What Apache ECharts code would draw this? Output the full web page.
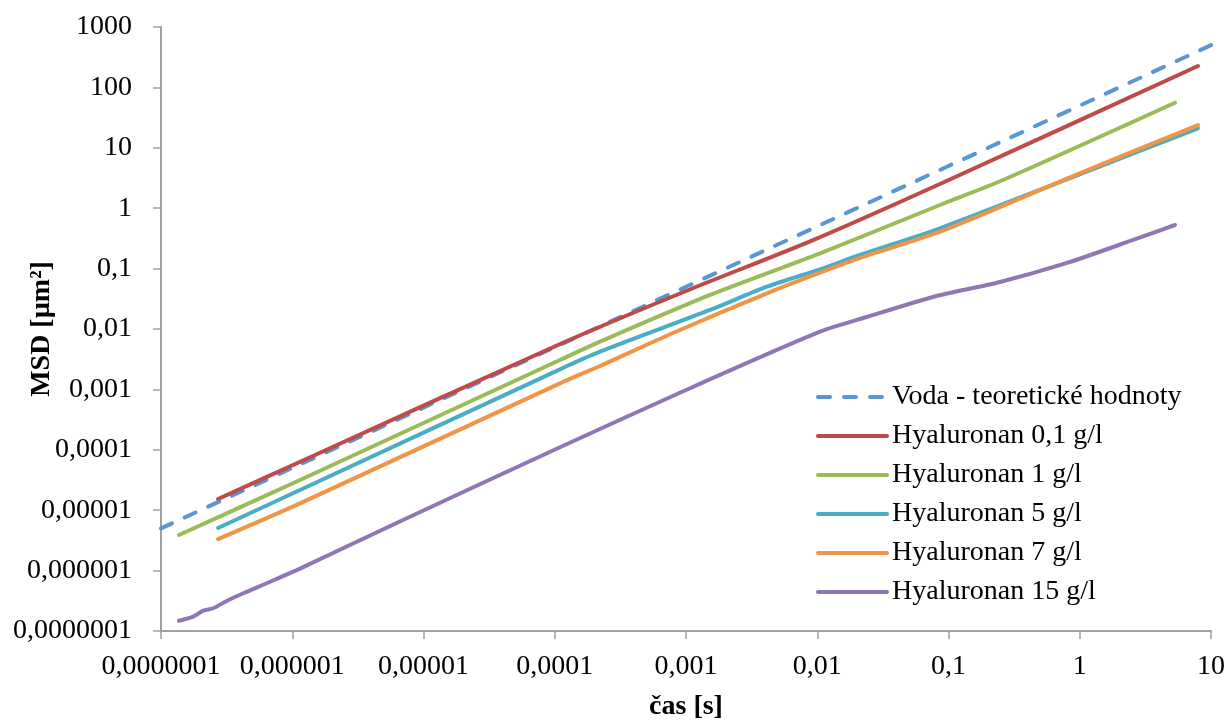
<!DOCTYPE html>
<html>
<head>
<meta charset="utf-8">
<script src="https://cdn.jsdelivr.net/npm/echarts@6/dist/echarts.min.js"></script>
<style>
html,body{margin:0;padding:0;background:#fff;}
#c{width:1230px;height:720px;}
</style>
</head>
<body>
<div id="c"></div>
<script>
// ---- data ----
var seriesNames = ['Voda - teoretické hodnoty', 'Hyaluronan 0,1 g/l', 'Hyaluronan 1 g/l', 'Hyaluronan 5 g/l', 'Hyaluronan 7 g/l', 'Hyaluronan 15 g/l'];
var xTickLabels = ['0,0000001', '0,000001', '0,00001', '0,0001', '0,001', '0,01', '0,1', '1', '10'];
var yTickLabels = ['0,0000001', '0,000001', '0,00001', '0,0001', '0,001', '0,01', '0,1', '1', '10', '100', '1000'];

var tWater = [1e-7, 1e-6, 1e-5, 1e-4, 1e-3, 1e-2, 1e-1, 1, 10];
var mWater = [5e-6, 5e-5, 5e-4, 5e-3, 0.05, 0.5, 5, 50, 500];

var tH01 = [2.72e-7, 1.15e-6, 1.1e-4, 1e-3, 9.3e-3, 0.086, 7.96];
var mH01 = [1.53e-5, 6.35e-5, 5.65e-3, 0.0426, 0.297, 2.52, 226];

var tH1 = [1.37e-7, 1.146e-6, 1.096e-4, 2.213e-4, 1.524e-3, 0.0105, 0.0861, 0.26, 5.32];
var mH1 = [3.88e-6, 3.16e-5, 3.07e-3, 6.17e-3, 0.0366, 0.179, 1.13, 2.93, 55.8];

var tH5 = [2.72e-7, 1.146e-6, 1.096e-4, 2.213e-4, 1.524e-3, 4.14e-3, 0.0105, 0.0212, 0.0861, 0.843, 7.96];
var mH5 = [5.07e-6, 2.16e-5, 2.15e-3, 4.21e-3, 0.0207, 0.0501, 0.0973, 0.168, 0.465, 3.15, 21.0];

var tH7 = [2.72e-7, 1.146e-6, 1.096e-4, 2.213e-4, 7.96e-4, 4.14e-3, 0.0105, 0.0212, 0.0861, 0.843, 7.96];
var mH7 = [3.33e-6, 1.30e-5, 1.26e-3, 2.44e-3, 8.59e-3, 0.0390, 0.0855, 0.150, 0.408, 3.25, 23.8];

var tH15 = [1.37e-7, 1.76e-7, 2.10e-7, 2.50e-7, 3.17e-7, 4.24e-7, 6.38e-7, 1.146e-6, 6.98e-6, 1.096e-4, 1e-3, 0.0105, 0.0239, 0.0762, 0.247, 0.80, 2.55, 5.32];
var mH15 = [1.48e-7, 1.73e-7, 2.17e-7, 2.38e-7, 3.14e-7, 4.21e-7, 6.17e-7, 1.08e-6, 6.89e-6, 1.10e-4, 9.77e-4, 9.02e-3, 0.0158, 0.0339, 0.060, 0.124, 0.298, 0.527];

var colors = ['#5A96D2', '#BE4B48', '#9BBB59', '#4BACC6', '#F09545', '#8F77B5'];

function pairs(t, m) { return t.map(function (v, i) { return [v, m[i]]; }); }
var allData = [pairs(tWater, mWater), pairs(tH01, mH01), pairs(tH1, mH1), pairs(tH5, mH5), pairs(tH7, mH7), pairs(tH15, mH15)];

var FONT = 'Liberation Serif';
function labelFor(arr, minExp) {
  return function (v) {
    var k = Math.round(Math.log10(v)) - minExp;
    return arr[k] != null ? arr[k] : '';
  };
}

var series = allData.map(function (d, i) {
  return {
    name: seriesNames[i],
    type: 'line',
    data: d,
    symbol: 'none',
    showSymbol: false,
    smooth: i === 0 ? false : 0.25,
    lineStyle: {
      color: colors[i],
      width: 4,
      type: i === 0 ? [12, 14] : 'solid',
      cap: 'round'
    },
    itemStyle: { color: colors[i] },
    z: 2 + i,
    animation: false
  };
});

var chart = echarts.init(document.getElementById('c'));
chart.setOption({
  animation: false,
  backgroundColor: '#ffffff',
  textStyle: { fontFamily: FONT },
  grid: { left: 161, right: 19, top: 27, bottom: 89, containLabel: false, outerBoundsMode: 'none' },
  legend: {
    show: true,
    orient: 'vertical',
    left: 811,
    top: 378,
    itemWidth: 69,
    itemHeight: 14,
    itemGap: 11,
    data: seriesNames,
    itemStyle: { opacity: 0 },
    lineStyle: { width: 4, opacity: 1 },
    textStyle: { fontFamily: FONT, fontSize: 28, color: '#000' }
  },
  xAxis: {
    type: 'log',
    logBase: 10,
    min: 1e-7,
    max: 10,
    interval: 1,
    name: 'čas [s]',
    nameLocation: 'middle',
    nameGap: 62,
    nameMoveOverlap: false,
    nameTextStyle: { fontFamily: FONT, fontSize: 28, fontWeight: 'bold', color: '#000' },
    axisLine: { show: true, lineStyle: { color: '#A0A0A0', width: 2 } },
    axisTick: { show: true, length: 8, lineStyle: { color: '#A0A0A0', width: 1.5 } },
    axisLabel: { fontFamily: FONT, fontSize: 28, color: '#000', margin: 22, formatter: labelFor(xTickLabels, -7), showMinLabel: true, showMaxLabel: true },
    splitLine: { show: false },
    minorTick: { show: false }
  },
  yAxis: {
    type: 'log',
    logBase: 10,
    min: 1e-7,
    max: 1000,
    interval: 1,
    name: 'MSD [µm²]',
    nameLocation: 'middle',
    nameGap: 105,
    nameMoveOverlap: false,
    nameTextStyle: { fontFamily: FONT, fontSize: 28, fontWeight: 'bold', color: '#000' },
    axisLine: { show: true, lineStyle: { color: '#A0A0A0', width: 2 } },
    axisTick: { show: true, length: 8, lineStyle: { color: '#A0A0A0', width: 1.5 } },
    axisLabel: { fontFamily: FONT, fontSize: 28, color: '#000', margin: 29, formatter: labelFor(yTickLabels, -7), showMinLabel: true, showMaxLabel: true },
    splitLine: { show: false },
    minorTick: { show: false }
  },
  series: series
});
</script>
</body>
</html>
